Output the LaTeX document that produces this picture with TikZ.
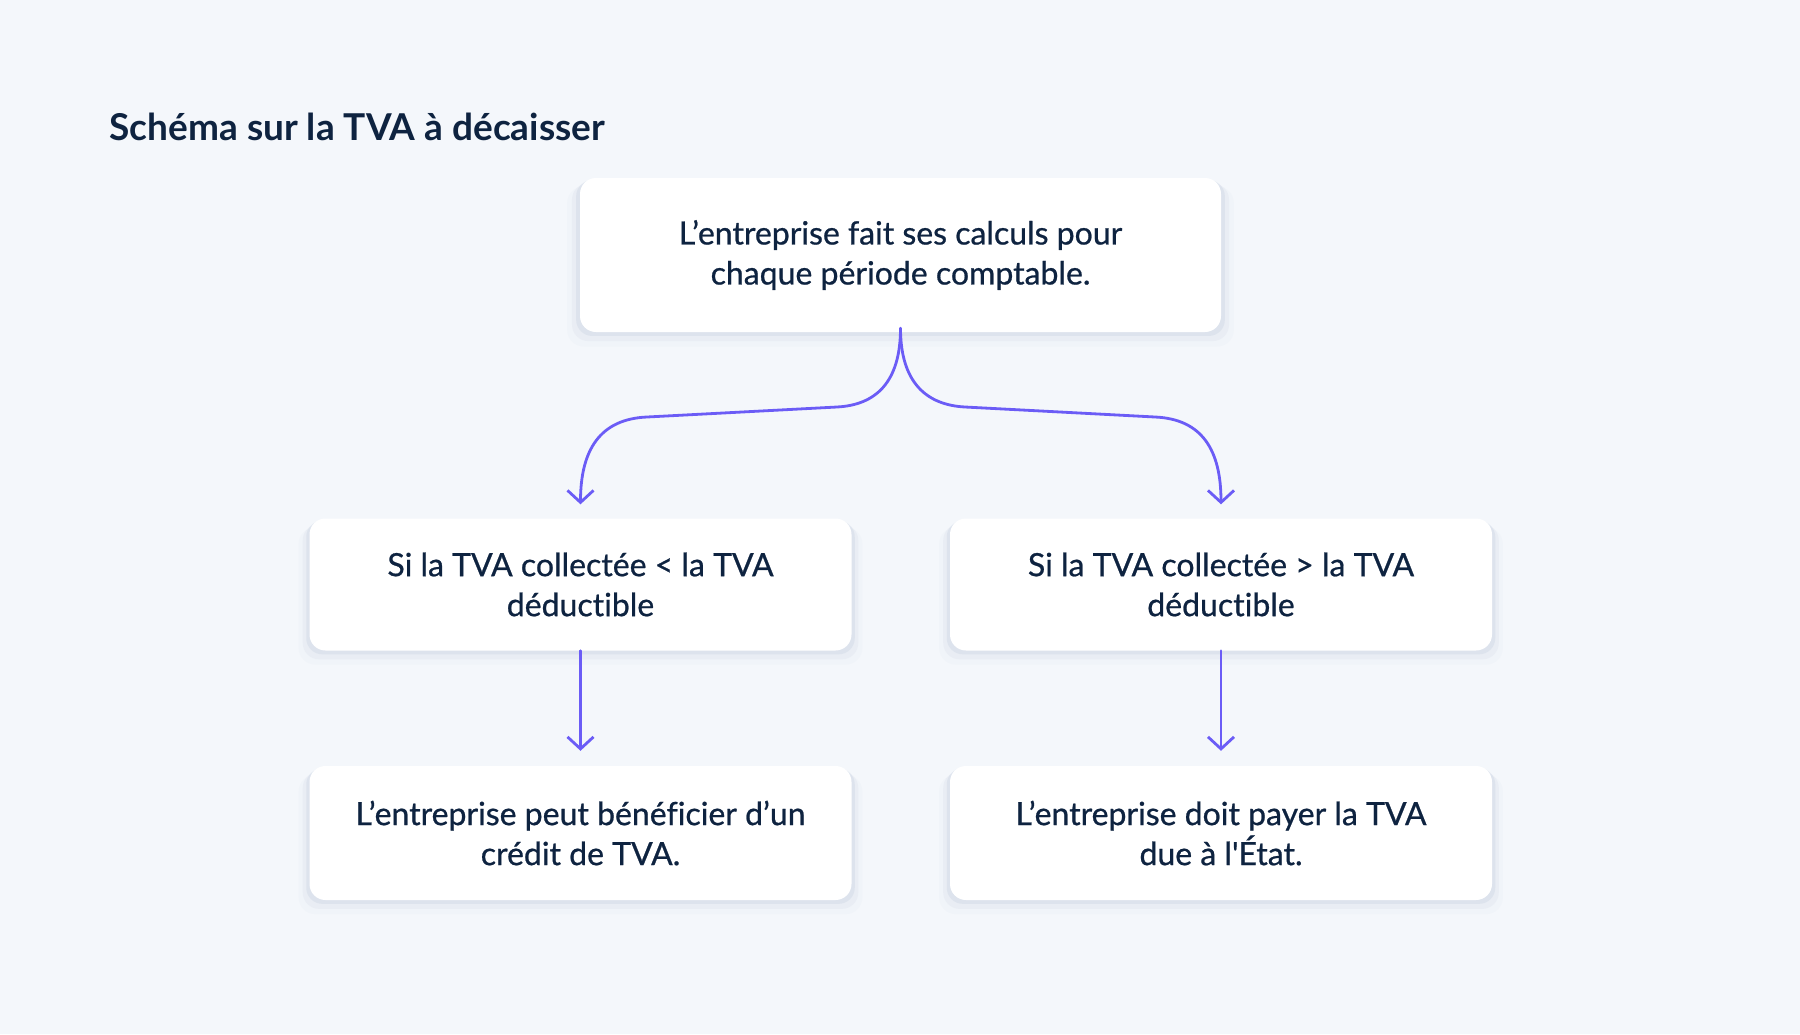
\documentclass[tikz,border=0pt]{standalone}
\usepackage{fontspec}
\setmainfont{Lato}
\newfontfamily\cardfont{Lato}[Ligatures=NoCommon, FakeBold=0.7]
\usetikzlibrary{arrows.meta,shadows}

\definecolor{bgc}{HTML}{F4F7FB}
\definecolor{inkc}{HTML}{0E2340}
\definecolor{arrowc}{HTML}{6B5CF6}
\definecolor{shadowc}{HTML}{C9D2E2}

\tikzset{
  card/.style={fill=white, rounded corners=16pt, align=center, text=inkc,
    font=\cardfont\fontsize{32}{40}\selectfont,
    general shadow={shadow yshift=-3pt, shadow scale=1.012, fill=shadowc, opacity=0.35},
    general shadow={shadow yshift=-7pt, shadow scale=1.025, fill=shadowc, opacity=0.18},
    general shadow={shadow yshift=-11pt, shadow scale=1.04, fill=shadowc, opacity=0.08}},
  flow/.style={draw=arrowc, line width=2.8pt, line cap=round,
    -{Straight Barb[length=12pt, width=26pt, line width=2.8pt]}}
}

\begin{document}
\begin{tikzpicture}[x=1pt, y=-1pt]
\fill[bgc] (0,0) rectangle (1800,1034);
\useasboundingbox (0,0) rectangle (1800,1034);

\node[anchor=base west, text=inkc, font=\fontsize{37}{44}\selectfont\bfseries] (title) at (106,140) {Schéma sur la TVA à décaisser};

\node[card, minimum width=641pt, minimum height=154pt] (calc) at (900.5,255) {L’entreprise fait ses calculs pour\\chaque période comptable.};

\node[card, minimum width=542pt, minimum height=132pt] (moins) at (580.5,584.5) {Si la TVA collectée < la TVA\\déductible};
\node[card, minimum width=542pt, minimum height=132pt] (plus) at (1221,584.5) {Si la TVA collectée > la TVA\\déductible};

\node[card, minimum width=542pt, minimum height=134pt] (credit) at (580.5,833) {L’entreprise peut bénéficier d’un\\crédit de TVA.};
\node[card, minimum width=542pt, minimum height=134pt] (payer) at (1221,833) {L’entreprise doit payer la TVA\\due à l'État.};

% branches from the top box
\coordinate (kL) at (837,407);
\coordinate (jL) at (647,417);
\coordinate (kR) at (965,407);
\coordinate (jR) at (1155,417);

\draw[flow, shorten >=14pt] ([yshift=4pt]calc.south) .. controls +(0,55) and (875,405) .. (kL)
  -- (jL) .. controls (600,419) and (580.5,450) .. (moins.north);
\draw[flow, shorten >=14pt] ([yshift=4pt]calc.south) .. controls +(0,55) and (927,405) .. (kR)
  -- (jR) .. controls (1202,419) and (1221,450) .. (plus.north);

\draw[flow, shorten >=15pt] (moins.south) -- (credit.north);
\draw[flow, shorten >=15pt] (plus.south) -- (payer.north);
\end{tikzpicture}
\end{document}
